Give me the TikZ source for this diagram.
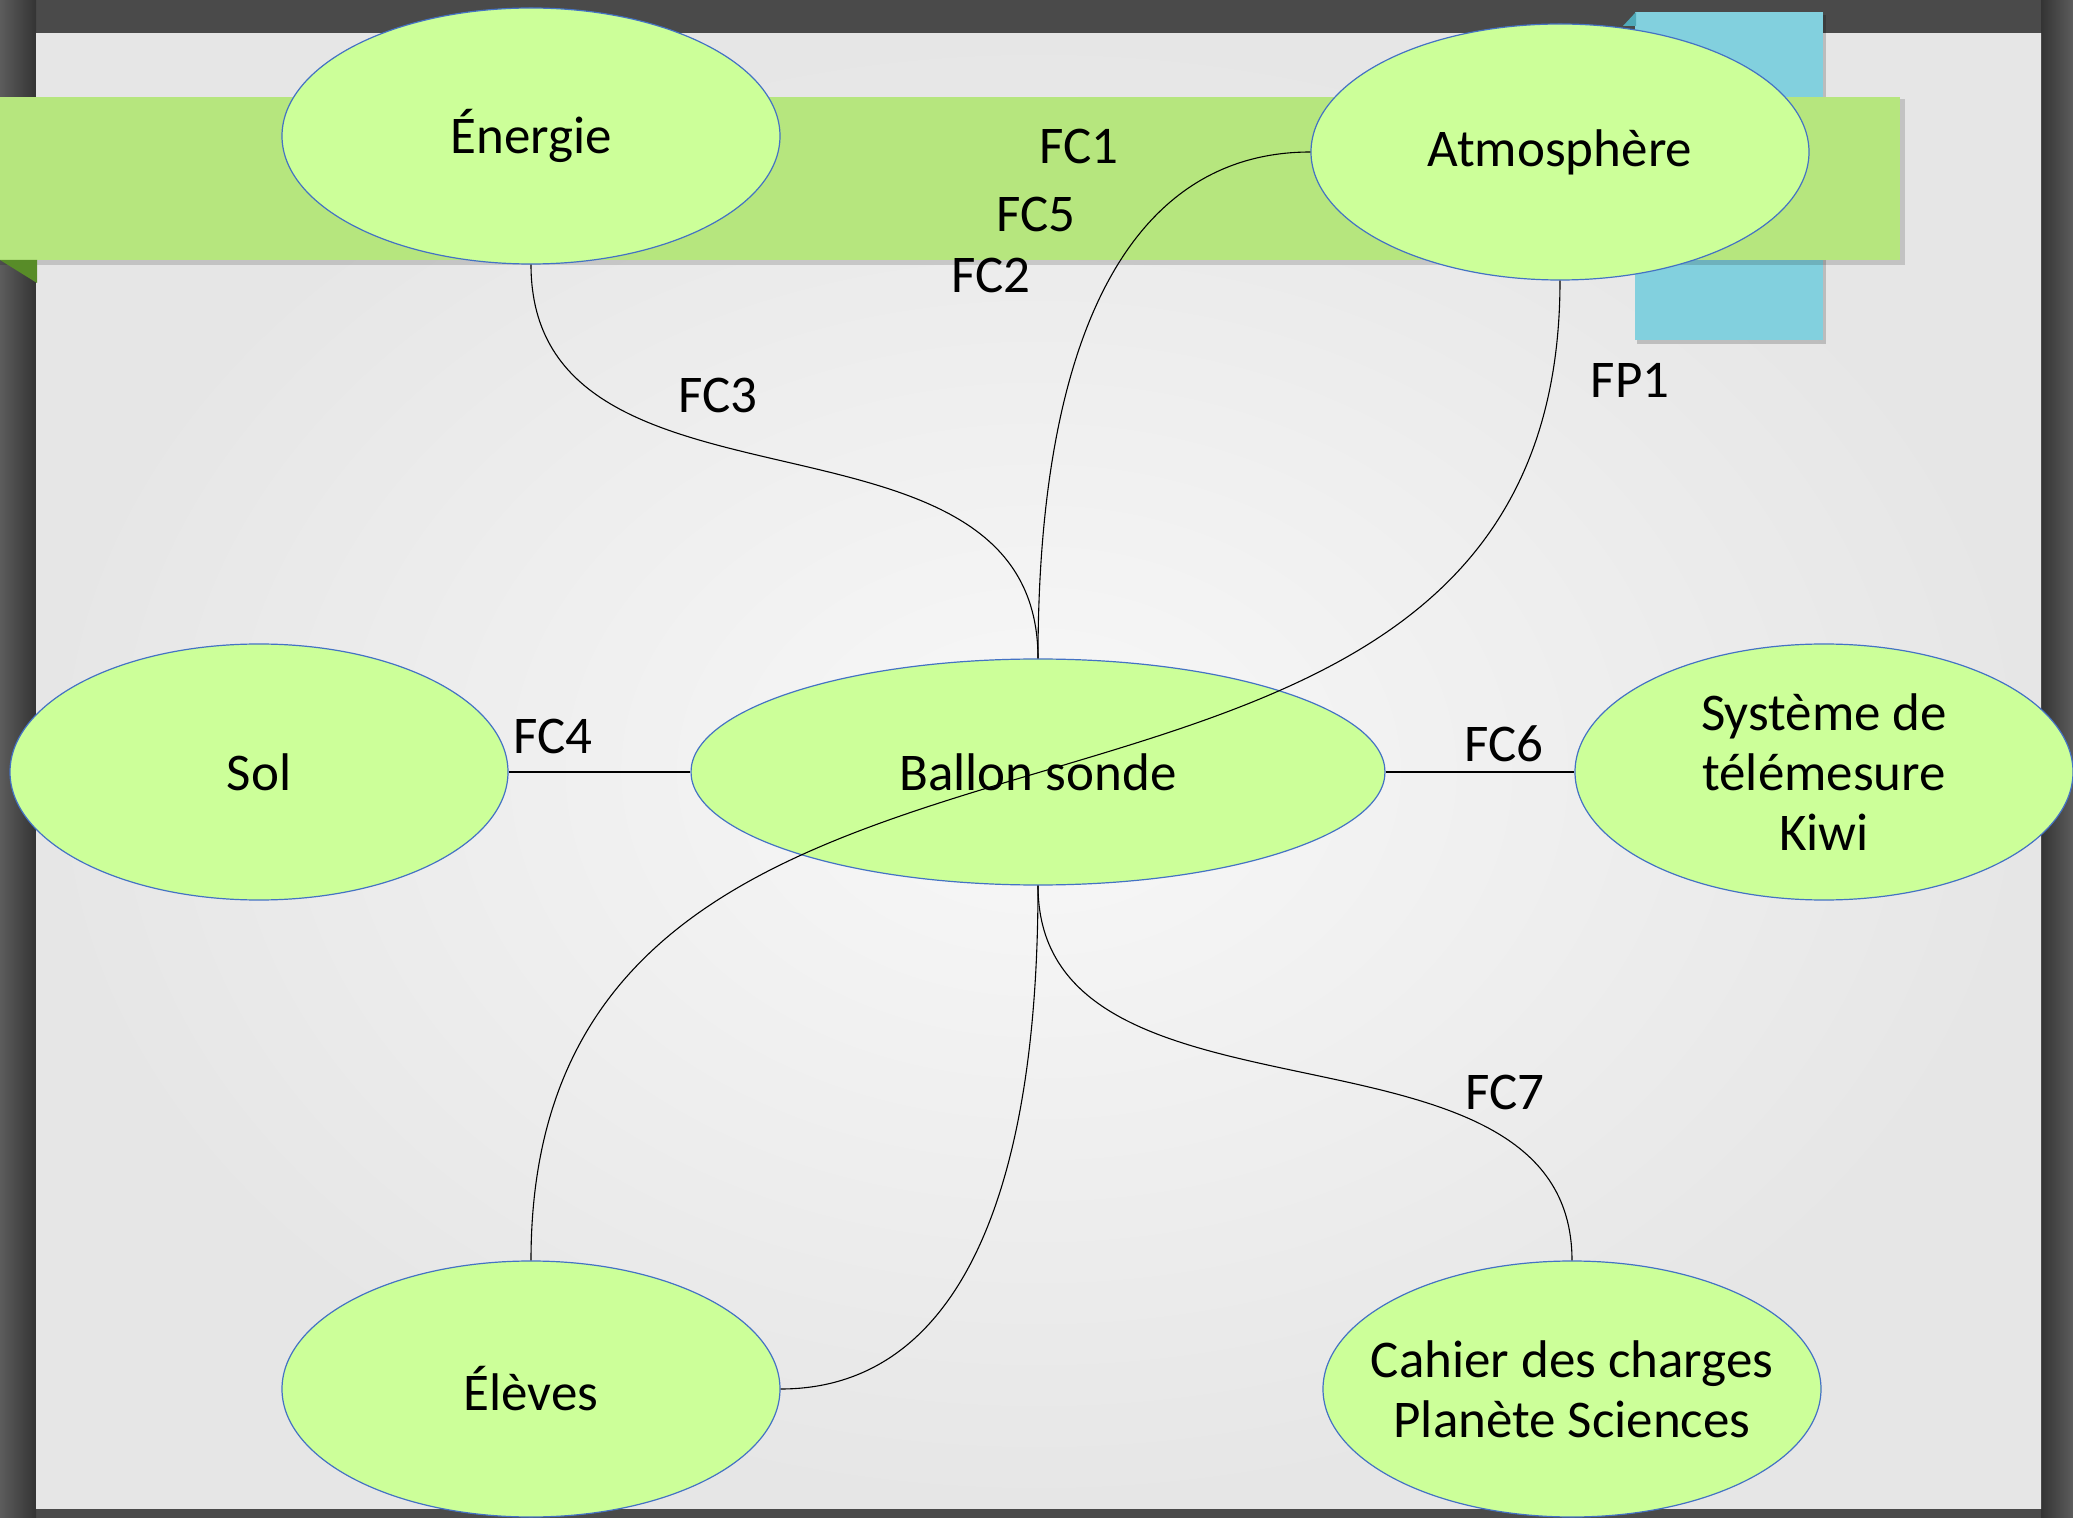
\documentclass[tikz,border=0pt]{standalone}
\usepackage{fontspec}
\setmainfont{Carlito}
\usetikzlibrary{shapes.geometric}
\definecolor{surround}{RGB}{74,74,74}
\definecolor{surroundlight}{RGB}{92,92,92}
\definecolor{surrounddark}{RGB}{52,52,52}
\definecolor{panelin}{RGB}{248,248,248}
\definecolor{panelout}{RGB}{230,230,230}
\definecolor{bandgreen}{RGB}{182,230,126}
\definecolor{folddark}{RGB}{88,140,40}
\definecolor{bluerect}{RGB}{130,208,222}
\definecolor{bluefold}{RGB}{80,170,185}
\definecolor{ellfill}{RGB}{204,255,153}
\definecolor{ellline}{RGB}{68,114,196}
\tikzset{
  ell/.style={ellipse, draw=ellline, line width=0.6pt, fill=ellfill, inner sep=0pt,
    minimum width=249pt, minimum height=128pt, align=center,
    font=\fontsize{26.5}{30}\selectfont},
  conn/.style={draw=black, line width=0.55pt},
  lbl/.style={inner sep=0pt, font=\fontsize{26.5}{30}\selectfont}
}
\begin{document}
\begin{tikzpicture}[x=0.5pt,y=-0.5pt]
\useasboundingbox (0,0) rectangle (2073,1518);
% surround and panel
\fill[surround] (0,0) rectangle (2073,1518);
\shade[left color=surroundlight, right color=surrounddark] (0,0) rectangle (36,1518);
\shade[left color=surrounddark, right color=surroundlight] (2041,0) rectangle (2073,1518);
\shade[inner color=panelin, outer color=panelout] (36,34) rectangle (2041,1508);
% blue rectangle
\fill[black, opacity=0.18] (1637,15) rectangle (1826,344);
\fill[bluerect] (1635,12) rectangle (1823,340);
\fill[bluefold] (1623,26) -- (1636,12) -- (1636,26) -- cycle;
% green band
\fill[black, opacity=0.15] (0,99) rectangle (1905,265);
\fill[bandgreen] (0,97) rectangle (1900,260);
\fill[folddark] (0,260) -- (37,260) -- (37,283) -- cycle;
% nodes
\node[ell] (ener) at (531,136) {Énergie};
\node[ell] (atm) at (1560,152) {Atmosphère};
\node[ell] (sol) at (259,772) {Sol};
\node[ell, minimum width=347pt, minimum height=113pt] (ball) at (1038,772) {Ballon sonde};
\node[ell, inner xsep=-30pt] (sys) at (1824,772) {Système de\\télémesure\\Kiwi};
\node[ell] (elev) at (531,1389) {Élèves};
\node[ell, inner xsep=-60pt] (cah) at (1572,1389) {Cahier des charges\\Planète Sciences};
% connectors
\draw[conn] (ener.south) .. controls +(0,276) and +(0,-276) .. (ball.north);
\draw[conn] (atm.west) .. controls +(-177,0) and +(0,-329) .. (ball.north);
\draw[conn] (atm.south) .. controls +(0,674) and +(0,-674) .. (elev.north);
\draw[conn] (sol.east) -- (ball.west);
\draw[conn] (ball.east) -- (sys.west);
\draw[conn] (ball.south) .. controls +(0,262) and +(0,-262) .. (cah.north);
\draw[conn] (ball.south) .. controls +(0,328) and +(168,0) .. (elev.east);
% labels
\node[lbl] (fc1) at (1079,146) {FC1};
\node[lbl] (fc5) at (1036,214) {FC5};
\node[lbl] (fc2) at (991,275) {FC2};
\node[lbl] (fc3) at (718,395) {FC3};
\node[lbl] (fp1) at (1630,380) {FP1};
\node[lbl] (fc4) at (553,736) {FC4};
\node[lbl] (fc6) at (1504,744) {FC6};
\node[lbl] (fc7) at (1505,1092) {FC7};
\end{tikzpicture}
\end{document}
